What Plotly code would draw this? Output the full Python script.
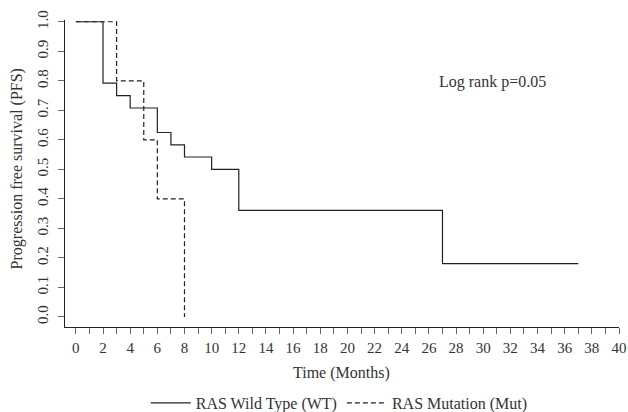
import plotly.graph_objects as go

# Kaplan-Meier step data
wt_time = [0, 2, 3, 4, 6, 7, 8, 10, 12, 27, 37]
wt_surv = [1.0, 0.792, 0.75, 0.708, 0.625, 0.583, 0.542, 0.5, 0.361, 0.181, 0.181]
mut_time = [0, 3, 5, 6, 8]
mut_surv = [1.0, 0.8, 0.6, 0.4, 0.0]

x_ticks = list(range(0, 41, 2))
y_ticks = [i / 10 for i in range(11)]

wt_name = "RAS Wild Type (WT)"
mut_name = "RAS Mutation (Mut)"
logrank_text = "Log rank p=0.05"
x_title = "Time (Months)"
y_title = "Progression free survival (PFS)"

FONT = "Liberation Serif"
INK = "#222222"
TXT = "#333333"

W, H = 628, 412
ML, MR, MT, MB = 65, 9, 20, 85
PH = H - MT - MB
PW = W - ML - MR
X_AXIS_PX = H - MB

fig = go.Figure()
fig.add_trace(go.Scatter(
    x=wt_time, y=wt_surv, mode="lines", name=wt_name,
    line=dict(shape="hv", color=INK, width=1.2),
))
fig.add_trace(go.Scatter(
    x=mut_time, y=mut_surv, mode="lines", name=mut_name,
    line=dict(shape="hv", color=INK, width=1.2, dash="5px,3px"),
))

fig.update_layout(
    width=W, height=H,
    margin=dict(l=ML, r=MR, t=MT, b=MB, autoexpand=False),
    paper_bgcolor="white", plot_bgcolor="white",
    font=dict(family=FONT, size=15, color=TXT),
    showlegend=True,
    legend=dict(
        orientation="h", x=0.495, xanchor="center", y=-(403 - X_AXIS_PX) / PH, yanchor="middle",
        font=dict(family=FONT, size=16, color=TXT),
        bgcolor="rgba(0,0,0,0)", itemwidth=40,
    ),
    xaxis=dict(
        range=[-0.8, 40], tickvals=x_ticks, ticktext=[str(v) for v in x_ticks],
        automargin=False,
        showgrid=False, zeroline=False, showline=True, linecolor=INK, linewidth=1.2,
        ticks="outside", ticklen=6, tickcolor="#666", tickwidth=1,
        minor=dict(dtick=1, tick0=0, ticks="outside", ticklen=6, tickcolor="#666", tickwidth=1, showgrid=False),
        tickfont=dict(family=FONT, size=15, color=TXT),
        ticklabelstandoff=1,
    ),
    yaxis=dict(
        range=[-0.0339, 1.006], tickvals=y_ticks, ticktext=[f"{v:.1f}" for v in y_ticks],
        automargin=False,
        showgrid=False, zeroline=False, showline=True, linecolor=INK, linewidth=1.2,
        ticks="outside", ticklen=6, tickcolor="#666", tickwidth=1,
        tickangle=-90,
        tickfont=dict(family=FONT, size=15, color=TXT),
        ticklabelstandoff=4,
    ),
    annotations=[
        dict(x=26.6, y=0.796, xref="x", yref="y", text=logrank_text, showarrow=False,
             xanchor="left", yanchor="middle", font=dict(family=FONT, size=16, color=TXT)),
        dict(x=0.499, y=-(373 - X_AXIS_PX) / PH, xref="paper", yref="paper", text=x_title, showarrow=False,
             xanchor="center", yanchor="middle", font=dict(family=FONT, size=16, color=TXT)),
        dict(x=-(ML - 17) / PW, y=0.5, xref="paper", yref="y", text=y_title, showarrow=False,
             textangle=-90, xanchor="center", yanchor="middle",
             font=dict(family=FONT, size=16, color=TXT)),
    ],
)

# remove the page's default 8px body margin so the figure fills the window exactly
fig.write_html("out.html", config={"displayModeBar": False},
               post_script="document.body.style.margin='0';document.body.style.overflow='hidden';")
